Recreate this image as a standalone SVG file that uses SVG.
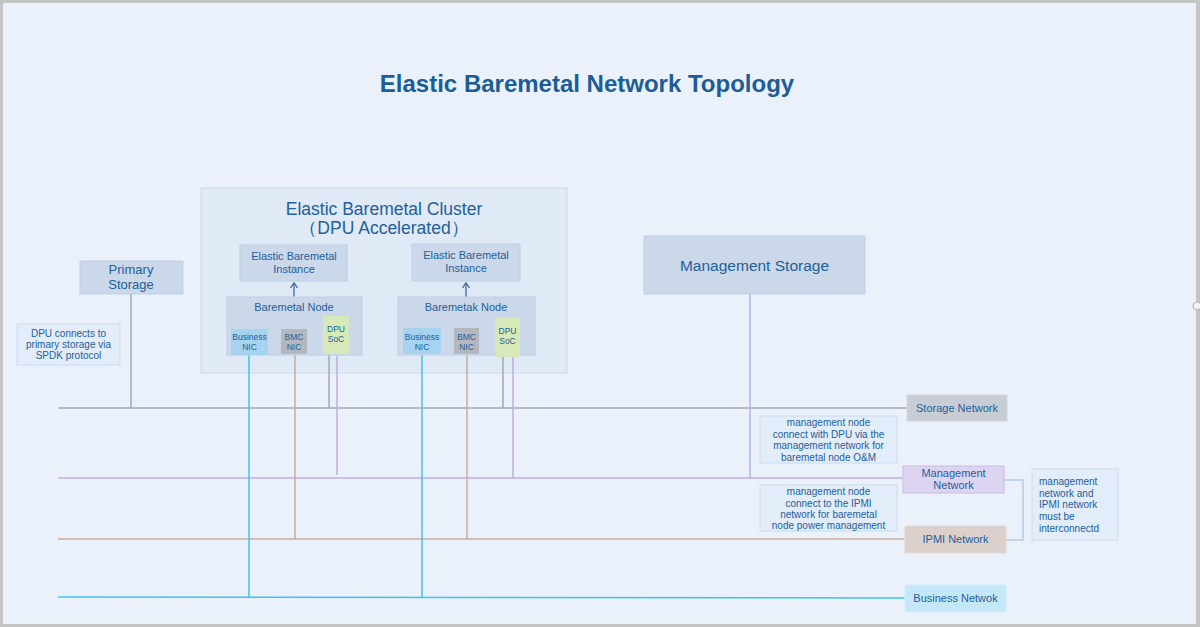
<svg xmlns="http://www.w3.org/2000/svg" width="1200" height="627" viewBox="0 0 1200 627">
<defs>
<style>
text{font-family:"Liberation Sans",Arial,sans-serif;fill:#23609a;text-anchor:middle}
.box{fill:#cad8ea;stroke:#bfd0e6;stroke-width:1}
.note{fill:#e2edf9;stroke:#c9dcf0;stroke-width:1}
.l{fill:none;stroke-width:1.5}
.sto{stroke:#a3a7b0}
.mgt{stroke:#bfaedd}
.ipmi{stroke:#c8ad9c}
.biz{stroke:#3ec3f0}
.t9{font-size:10px}
.t10{font-size:11px}
.s{font-size:8.5px}
</style>
<marker id="ah" markerWidth="8" markerHeight="8" refX="6" refY="4" orient="auto" markerUnits="userSpaceOnUse">
<path d="M1,0.5 L6,4 L1,7.5" fill="none" stroke="#3d6aa3" stroke-width="1.3"/>
</marker>
</defs>
<rect x="0" y="0" width="1200" height="627" fill="#c4c4c4"/>
<rect x="3" y="3" width="1193" height="621" fill="#eaf1fb"/>
<circle cx="1197" cy="306" r="4" fill="#f4f4f4" stroke="#b0b0b0" stroke-width="1"/>
<text x="587" y="92" style="font-size:24px;font-weight:bold;fill:#1d5d97">Elastic Baremetal Network Topology</text>

<g id="cluster">
<rect x="201" y="188" width="366" height="185" fill="#e0e9f6" stroke="#cad8ec"/>
<text x="384" y="215" style="font-size:17.5px">Elastic Baremetal Cluster</text>
<text x="384" y="234" style="font-size:17.5px">（DPU Accelerated）</text>
</g>

<g id="connectors">
<line class="l sto" x1="58" y1="408" x2="907" y2="408"/>
<line class="l mgt" x1="58" y1="478" x2="904" y2="478"/>
<line class="l ipmi" x1="58" y1="539" x2="906" y2="539"/>
<line class="l biz" x1="58" y1="597" x2="906" y2="598"/>
<line class="l sto" x1="131" y1="294" x2="131" y2="408"/>
<line class="l sto" x1="329" y1="355" x2="329" y2="408"/>
<line class="l sto" x1="503" y1="357" x2="503" y2="408"/>
<line class="l mgt" x1="337" y1="355" x2="337" y2="475"/>
<line class="l mgt" x1="513" y1="357" x2="513" y2="478"/>
<line class="l mgt" x1="750" y1="294" x2="750" y2="478"/>
<line class="l ipmi" x1="295" y1="354" x2="295" y2="539"/>
<line class="l ipmi" x1="467" y1="354" x2="467" y2="539"/>
<line class="l biz" x1="249" y1="355" x2="249" y2="597"/>
<line class="l biz" x1="422" y1="355" x2="422" y2="597"/>
<polyline class="l" stroke="#b7c9ea" points="1004,480 1023,480 1023,540 1006,540"/>
<line x1="294" y1="297" x2="294" y2="283" stroke="#3d6aa3" stroke-width="1.3" marker-end="url(#ah)"/>
<line x1="466" y1="297" x2="466" y2="283" stroke="#3d6aa3" stroke-width="1.3" marker-end="url(#ah)"/>
</g>

<g id="instance1">
<rect class="box" x="240" y="245" width="107" height="36"/>
<text class="t10" x="294" y="260">Elastic Baremetal</text>
<text class="t10" x="294" y="273">Instance</text>
</g>
<g id="instance2">
<rect class="box" x="412" y="244" width="108" height="37"/>
<text class="t10" x="466" y="259">Elastic Baremetal</text>
<text class="t10" x="466" y="272">Instance</text>
</g>
<g id="node1">
<rect class="box" x="227" y="297" width="135" height="58"/>
<text class="t10" x="294" y="311">Baremetal Node</text>
</g>
<g id="node2">
<rect class="box" x="398" y="297" width="137" height="58"/>
<text class="t10" x="466" y="311">Baremetak Node</text>
</g>
<g id="bnic1"><rect x="231" y="329" width="37" height="26" fill="#a6d3ef"/><text class="s" x="249.5" y="340">Business</text><text class="s" x="249.5" y="350">NIC</text></g>
<g id="bmc1"><rect x="281" y="329" width="26" height="25" fill="#b5b7bf"/><text class="s" x="294" y="340">BMC</text><text class="s" x="294" y="350">NIC</text></g>
<g id="dpu1"><rect x="323" y="316" width="26" height="38" fill="#d7e9b8"/><text class="s" x="336" y="332">DPU</text><text class="s" x="336" y="342">SoC</text></g>
<g id="bnic2"><rect x="403" y="328" width="38" height="26" fill="#a6d3ef"/><text class="s" x="422" y="340">Business</text><text class="s" x="422" y="350">NIC</text></g>
<g id="bmc2"><rect x="454" y="328" width="25" height="26" fill="#b5b7bf"/><text class="s" x="466.5" y="340">BMC</text><text class="s" x="466.5" y="350">NIC</text></g>
<g id="dpu2"><rect x="495" y="318" width="25" height="39" fill="#d7e9b8"/><text class="s" x="507.5" y="334">DPU</text><text class="s" x="507.5" y="344">SoC</text></g>

<g id="primary-storage">
<rect class="box" x="80" y="261" width="103" height="33"/>
<text x="131" y="274" style="font-size:13px">Primary</text>
<text x="131" y="289" style="font-size:13px">Storage</text>
</g>
<g id="management-storage">
<rect class="box" x="644" y="236" width="221" height="58"/>
<text x="754.5" y="271" style="font-size:15.5px">Management Storage</text>
</g>
<g id="note-spdk">
<rect class="note" x="17" y="324" width="103" height="41"/>
<text class="t9" x="68.5" y="337">DPU connects to</text>
<text class="t9" x="68.5" y="348">primary storage via</text>
<text class="t9" x="68.5" y="359">SPDK protocol</text>
</g>
<g id="note-mgmt">
<rect class="note" x="760" y="416" width="137" height="47"/>
<text class="t9" x="828.5" y="426">management node</text>
<text class="t9" x="828.5" y="438">connect with DPU via the</text>
<text class="t9" x="828.5" y="449">management network for</text>
<text class="t9" x="828.5" y="461">baremetal node O&amp;M</text>
</g>
<g id="note-ipmi">
<rect class="note" x="760" y="485" width="137" height="46"/>
<text class="t9" x="828.5" y="495">management node</text>
<text class="t9" x="828.5" y="507">connect to the IPMI</text>
<text class="t9" x="828.5" y="518">network for baremetal</text>
<text class="t9" x="828.5" y="529">node power management</text>
</g>
<g id="note-interconnect">
<rect class="note" x="1032" y="469" width="86" height="71"/>
<text class="t9" x="1039" y="485" style="text-anchor:start">management</text>
<text class="t9" x="1039" y="497" style="text-anchor:start">network and</text>
<text class="t9" x="1039" y="508" style="text-anchor:start">IPMI network</text>
<text class="t9" x="1039" y="520" style="text-anchor:start">must be</text>
<text class="t9" x="1039" y="532" style="text-anchor:start">interconnectd</text>
</g>
<g id="storage-network">
<rect x="907" y="395" width="100" height="26" fill="#c8ccd4" stroke="#d3d7de"/>
<text class="t10" x="957" y="412">Storage Network</text>
</g>
<g id="management-network">
<rect x="903" y="466" width="101" height="27" fill="#dcd4f1" stroke="#c8bde6"/>
<text class="t10" x="953.5" y="477">Management</text>
<text class="t10" x="953.5" y="489">Network</text>
</g>
<g id="ipmi-network">
<rect x="905" y="526" width="101" height="27" fill="#dbd0cc" stroke="#e2d8d2"/>
<text class="t10" x="955.5" y="543">IPMI Network</text>
</g>
<g id="business-network">
<rect x="905" y="585" width="101" height="27" fill="#c4e8f8" stroke="#d4eefa"/>
<text class="t10" x="955.5" y="602">Business Netwok</text>
</g>
</svg>
